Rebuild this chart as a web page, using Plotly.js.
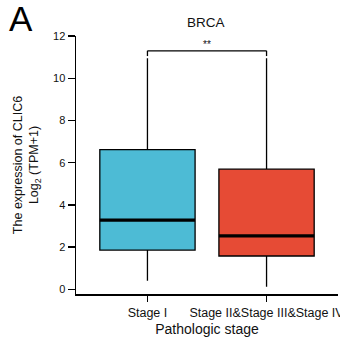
<!DOCTYPE html>
<html><head><meta charset="utf-8">
<script src="https://cdn.plot.ly/plotly-3.0.1.min.js"></script>
<style>html,body{margin:0;padding:0;background:#fff}#chart{width:340px;height:344px}</style>
</head><body><div id="chart"></div>
<script>
const categories = ["Stage I", "Stage II&Stage III&Stage IV"];
const lowerWhisker = [0.41, 0.12];
const q1 = [1.86, 1.58];
const median = [3.28, 2.53];
const q3 = [6.62, 5.69];
const upperWhisker = [10.95, 10.95];
const colors = ["#4DBBD5", "#E64B35"];
const sigLabel = "**";

const boxTraces = categories.map((c, i) => ({
  type: "box", x: [c], q1: [q1[i]], median: [median[i]], q3: [q3[i]],
  lowerfence: [lowerWhisker[i]], upperfence: [upperWhisker[i]],
  fillcolor: colors[i], line: {color: "#000", width: 1.3},
  whiskerwidth: 0, width: 0.8, boxpoints: false, showlegend: false, hoverinfo: "skip"
}));
const medTraces = categories.map((c, i) => ({
  type: "scatter", mode: "lines", x: [i - 0.4, i + 0.4], y: [median[i], median[i]],
  xaxis: "x2", line: {color: "#000", width: 3.2}, showlegend: false, hoverinfo: "skip"
}));
const data = boxTraces.concat(medTraces);

const brY = Math.max(...upperWhisker) + 0.35;
const shapes = [
  {type: "line", xref: "x2", yref: "y", x0: 0, x1: 1, y0: brY, y1: brY, line: {color: "#000", width: 1.3}},
  {type: "line", xref: "x2", yref: "y", x0: 0, x1: 0, y0: brY, y1: brY - 0.25, line: {color: "#000", width: 1.3}},
  {type: "line", xref: "x2", yref: "y", x0: 1, x1: 1, y0: brY, y1: brY - 0.25, line: {color: "#000", width: 1.3}}
];

const layout = {
  width: 340, height: 344,
  margin: {l: 76, r: 2, t: 36, b: 50},
  paper_bgcolor: "#fff", plot_bgcolor: "#fff",
  font: {family: "Liberation Sans, Arial, sans-serif", color: "#111", size: 11},
  title: {text: "BRCA", x: 0.605, xanchor: "center", y: 0.935, yanchor: "middle", font: {size: 13.5, color: "#111"}},
  xaxis: {type: "category", range: [-0.6, 1.6], showline: true, linecolor: "#000", linewidth: 1.5,
    ticks: "outside", ticklen: 6, tickcolor: "#000", tickwidth: 1.3, showgrid: false, zeroline: false,
    tickfont: {size: 12.5, color: "#111"},
    title: {text: "Pathologic stage", font: {size: 14, color: "#111"}, standoff: 5}},
  xaxis2: {overlaying: "x", range: [-0.6, 1.6], visible: false},
  yaxis: {range: [-0.22, 12], tickvals: [0, 2, 4, 6, 8, 10, 12], showline: true, linecolor: "#000", linewidth: 1.5,
    ticks: "outside", ticklen: 7, tickcolor: "#000", tickwidth: 1.3, showgrid: false, zeroline: false,
    tickfont: {size: 11, color: "#111"},
    title: {text: "The expression of CLIC6<br>Log<sub>2</sub> (TPM+1)", font: {size: 12.5, color: "#111"}, standoff: 11}},
  shapes: shapes,
  annotations: [
    {text: "A", xref: "paper", yref: "paper", x: -0.262, y: 1.153, xanchor: "left", yanchor: "top",
      showarrow: false, font: {size: 35, color: "#000"}},
    {text: sigLabel, xref: "x2", yref: "y", x: 0.5, y: brY, yanchor: "bottom", showarrow: false,
      font: {size: 10, color: "#111"}, yshift: -1}
  ]
};
Plotly.newPlot("chart", data, layout, {displayModeBar: false, staticPlot: true});
</script></body></html>
